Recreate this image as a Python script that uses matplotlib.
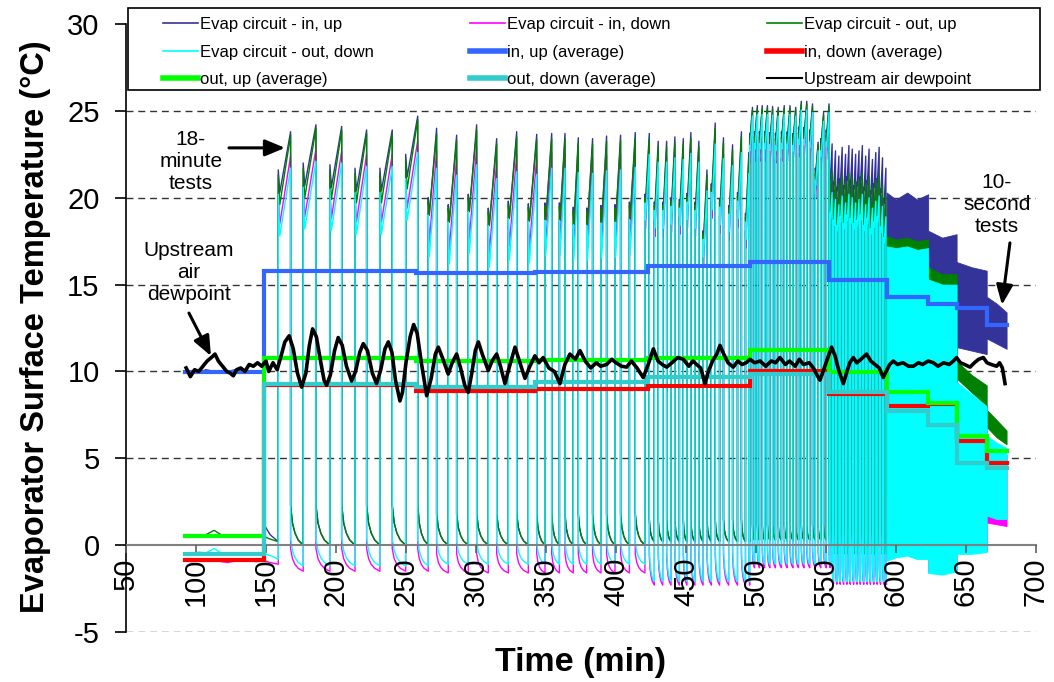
import numpy as np
import matplotlib
matplotlib.use("Agg")
import matplotlib.pyplot as plt
from matplotlib.lines import Line2D
from matplotlib.patches import Rectangle

plt.rcParams["font.family"] = ["Liberation Sans", "DejaVu Sans"]
plt.rcParams["axes.unicode_minus"] = False

# ---------------------------------------------------------------- data
# Steady pre-test period and the first cold spell before cycling (min, degC)
pre_t        = [92, 97, 102, 107, 113, 118, 123, 128, 133, 138, 143, 148.5, 148.5, 153, 158.8]
pre_in_up    = [10.0, 10.0, 9.9, 10.1, 10.0, 9.9, 10.0, 10.1, 10.0, 9.9, 10.0, 10.0, 1.2, 0.6, 0.2]
pre_in_down  = [-0.9, -0.95, -0.85, -0.9, -0.8, -0.95, -1.0, -0.9, -0.85, -0.9, -0.95, -0.9, -0.9, -1.0, -1.1]
pre_out_up   = [0.5, 0.45, 0.55, 0.6, 0.85, 0.6, 0.45, 0.5, 0.55, 0.5, 0.45, 0.5, 0.5, 0.35, 0.2]
pre_out_down = [-0.45, -0.5, -0.4, -0.45, -0.2, -0.45, -0.55, -0.5, -0.45, -0.5, -0.5, -0.5, -0.5, -0.6, -0.8]

# Warm (fan-off) phases of the cyclic tests: start, end (min) and in-up peak (degC)
warm_on = [158.8, 176.6, 195.7, 213.6, 231.4, 249.8,
           265.9, 280.2, 294.5, 308.8, 323.1, 337.4,
           349.3, 359.6, 369.5, 379.1, 389.3, 399.3, 409.6,
           420.7, 427.4, 433.4, 439.3, 445.3, 450.7, 456.4, 462.2, 468.1, 474.0, 480.5, 486.8, 492.5,
           495.5, 499.0, 502.5, 506.2, 509.9, 513.9, 518.2, 522.3, 526.4, 530.4, 534.3, 538.4, 542.4, 546.3, 550.2,
           553.0, 555.4, 557.8, 560.2, 562.6, 565.0, 567.4, 569.8, 572.2, 574.6, 577.0, 579.4, 581.8, 584.2,
           586.6, 589.0, 591.4]
warm_off = [167.6, 185.7, 204.1, 221.9, 240.2, 258.4,
            271.9, 286.2, 300.5, 314.8, 329.1, 343.4,
            354.1, 363.6, 373.1, 383.3, 393.3, 403.3, 413.8,
            423.8, 430.2, 436.2, 442.1, 448.1, 453.5, 459.2, 465.0, 470.9, 476.8, 483.3, 489.6, 494.9,
            497.5, 501.0, 504.5, 508.2, 511.9, 515.9, 520.2, 524.3, 528.4, 532.4, 536.3, 540.4, 544.4, 548.3, 552.2,
            554.4, 556.8, 559.2, 561.6, 564.0, 566.4, 568.8, 571.2, 573.6, 576.0, 578.4, 580.8, 583.2, 585.6,
            588.0, 590.4, 592.8]
peak_in_up = [23.8, 24.2, 24.1, 23.9, 23.9, 24.7,
              24.0, 23.6, 24.2, 23.4, 23.8, 23.65,
              23.7, 23.7, 23.45, 23.4, 23.55, 23.6, 23.75,
              23.7, 23.25, 23.25, 23.5, 23.4, 23.75, 23.25, 21.6, 24.3, 23.45, 23.05, 23.8, 22.6,
              25.2, 25.3, 25.3, 25.3, 25.25, 25.2, 25.3, 25.3, 25.2, 25.55, 25.55, 25.4, 23.2, 24.9, 25.4,
              23.1, 22.7, 22.4, 22.9, 22.5, 23.0, 22.8, 22.5, 22.7, 23.0, 22.4, 22.8, 22.2, 22.6,
              22.9, 22.3, 21.7]
cycling_end = 593.3

# Test blocks of the cyclic series (18, 14, 10, 6, 4 and 2.4 minute periods)
block_edges = [148.5, 259.0, 345.0, 419.0, 495.2, 552.6, 593.3]
# Drop below the in-up peak: peak, level just after fan-off, dip shortly after (degC)
peak_drop = {"in_up": [0, 0, 0, 0, 0, 0],
             "in_down": [1.4, 1.3, 1.1, 0.9, 0.5, 2.4],
             "out_up": [0.2, 0.3, 0.3, 0.3, 0.15, 1.6],
             "out_down": [2.1, 2.3, 2.0, 1.2, 0.5, 2.8]}
start_drop = {"in_up": [2.2, 4.0, 4.0, 3.5, 1.5, 1.8],
              "in_down": [3.6, 5.0, 5.0, 4.5, 3.0, 4.0],
              "out_up": [2.5, 4.2, 4.2, 3.7, 1.8, 3.0],
              "out_down": [3.6, 5.0, 5.0, 4.0, 2.2, 4.0]}
dip_drop = {"in_up": [3.5, 5.0, 5.0, 4.0, 1.8, 2.0],
            "in_down": [5.3, 6.6, 6.4, 5.5, 3.2, 4.2],
            "out_up": [4.2, 5.0, 5.0, 4.3, 2.0, 3.2],
            "out_down": [6.0, 7.4, 7.0, 5.0, 2.5, 4.3]}
# Surface temperature right after fan-on and at the end of the cold phase (degC)
cold_start = {"in_up": [2.3, 1.8, 1.8, 1.5, 1.2, 0.8],
              "in_down": [-0.2, -0.5, -0.5, -0.6, -0.3, -1.0],
              "out_up": [2.3, 1.8, 1.8, 1.5, 1.2, 0.8],
              "out_down": [0.4, 0.2, 0.2, -0.2, 0.0, -0.6]}
cold_end = {"in_up": [0.0, 0.0, 0.0, 0.2, 0.3, -0.5],
            "in_down": [-1.5, -1.6, -1.6, -2.3, -1.3, -2.25],
            "out_up": [0.0, 0.0, 0.0, 0.2, 0.3, -0.5],
            "out_down": [-1.2, -1.1, -1.1, -2.1, -1.1, -2.1]}

# 10-second tests: envelope of the fast oscillation (min, degC)
band_t      = [593.3, 600.0, 608.0, 615.0, 623.0, 623.0, 633.0, 643.3, 643.3, 654.0, 664.8, 664.8, 672.0, 679.0]
in_up_hi    = [20.3, 19.9, 20.3, 19.9, 20.2, 18.1, 17.7, 17.9, 16.3, 16.0, 15.8, 14.3, 13.9, 13.4]
in_up_lo    = [6.0, 6.0, 6.0, 6.0, 6.0, 6.0, 6.0, 6.0, 11.4, 11.2, 11.0, 11.9, 11.6, 11.3]
in_down_hi  = [16.0, 16.0, 16.0, 16.0, 16.0, 14.0, 14.0, 14.0, 8.5, 8.0, 7.5, 6.0, 5.5, 5.2]
in_down_lo  = [-0.85, -0.65, -0.55, -0.75, -0.75, -1.55, -1.65, -1.45, -0.45, -0.45, -0.35, 1.3, 1.2, 1.1]
out_up_hi   = [17.8, 17.6, 17.7, 17.5, 17.6, 16.0, 15.6, 15.6, 10.6, 9.8, 9.2, 7.8, 7.2, 6.6]
out_up_lo   = [3.0, 3.0, 3.0, 3.0, 3.0, 3.0, 3.0, 3.0, 9.6, 8.8, 8.0, 6.8, 6.2, 5.8]
out_down_hi = [17.2, 17.1, 17.2, 17.0, 17.1, 15.3, 15.0, 15.0, 9.4, 8.7, 8.0, 6.3, 5.9, 5.6]
out_down_lo = [-0.9, -0.7, -0.6, -0.8, -0.8, -1.6, -1.7, -1.5, -0.5, -0.5, -0.4, 1.7, 1.5, 1.5]

# Averages over each test (step levels, degC) between the step edges (min)
step_edges   = [92, 148.5, 257, 342, 423, 496, 552, 593.3, 623, 643.3, 665, 679]
avg_in_up    = [9.95, 15.8, 15.64, 15.73, 16.08, 16.3, 15.25, 14.3, 13.86, 13.68, 12.65]
avg_in_down  = [-0.84, 9.2, 8.9, 9.0, 9.18, 10.0, 8.7, 8.0, 8.12, 6.0, 4.74]
avg_out_up   = [0.5, 10.78, 10.6, 10.65, 10.8, 11.24, 9.95, 8.8, 8.2, 6.3, 5.4]
avg_out_down = [-0.52, 9.28, 9.12, 9.37, 9.66, 9.85, 8.8, 7.75, 6.9, 4.74, 4.45]

# Upstream air dewpoint (min, degC)
dew_t = [93, 96, 99, 102, 105, 108, 111, 113.6, 116, 119, 122, 124.5, 126.7, 129, 132, 135, 138, 141,
         144, 147, 150, 152, 155, 158, 160.5, 163.5, 166.6, 169.5, 172.5, 175.5, 178.5, 181, 183.3, 186,
         189, 191.5, 193.3, 196, 199, 201.6, 204.5, 207.5, 211.2, 214, 217, 219.5, 222.5, 226, 229, 232,
         235, 237.4, 240, 242.5, 245.7, 247.5, 250, 253, 255.5, 258, 261, 264.8, 268, 271, 273.1, 276,
         280.2, 283, 286.2, 289, 292, 294.5, 297, 299.5, 301.7, 304.5, 308.8, 311.5, 314.8, 317.5, 320.7,
         324, 327.9, 331, 335, 338.5, 342.1, 345, 348, 352, 356, 360, 363.5, 367.1, 371, 374.3, 378, 382,
         386, 389, 393.3, 397, 400, 404, 407.6, 411, 415, 419.5, 423, 426.7, 430, 433, 436.2, 440, 444,
         448.1, 452, 455, 457.6, 460.5, 463.6, 466, 469, 472, 474.3, 477, 480, 483.8, 487, 490, 493,
         495.7, 499, 503, 507, 511, 514, 517.1, 521, 524, 528, 531, 534, 538, 541, 543.5, 545.7, 548,
         550.5, 554, 556.5, 559, 562.4, 565, 567, 569.5, 572, 575, 579, 582, 585, 588, 590.9, 593, 595.5,
         598.1, 601, 605, 609, 612.4, 616, 619, 623, 626.7, 630, 634, 638, 641, 643.3, 646, 649, 652.9,
         656, 659, 662.4, 665, 668, 671.9, 674, 676, 677.9]
dew_v = [10.2, 9.7, 10.1, 10.0, 10.3, 10.6, 10.8, 11.0, 10.6, 10.3, 10.0, 9.9, 9.75, 10.1, 10.2, 10.0,
         10.4, 10.3, 10.5, 10.3, 10.6, 10.0, 10.5, 10.1, 10.8, 11.7, 12.05, 11.3, 9.9, 9.1, 9.9, 11.5,
         12.45, 12.0, 10.6, 9.5, 9.2, 9.8, 11.2, 11.95, 11.5, 10.3, 9.45, 10.0, 11.1, 11.6, 11.2, 9.9,
         9.3, 10.1, 11.3, 11.7, 11.1, 9.5, 8.3, 8.8, 10.5, 12.0, 12.7, 12.2, 10.5, 8.6, 9.6, 11.0, 11.4,
         10.8, 9.85, 10.5, 11.0, 10.2, 9.2, 8.8, 9.9, 11.2, 11.7, 11.0, 10.05, 10.6, 11.0, 10.3, 9.3,
         10.3, 11.4, 10.6, 9.6, 10.3, 10.9, 10.5, 10.8, 10.2, 10.0, 9.3, 10.4, 11.0, 10.7, 11.2, 10.6,
         10.2, 10.5, 10.3, 10.4, 10.7, 10.5, 10.3, 10.25, 10.6, 10.2, 9.65, 10.4, 11.3, 10.6, 10.4,
         10.25, 10.5, 10.8, 10.7, 10.3, 10.6, 10.4, 10.2, 9.3, 10.0, 10.6, 11.0, 11.5, 11.0, 10.5, 10.25,
         10.6, 10.4, 10.5, 10.7, 10.5, 10.6, 10.3, 10.6, 10.5, 10.8, 10.4, 10.6, 10.3, 10.7, 10.4, 10.5,
         10.2, 9.8, 9.5, 10.0, 10.6, 11.4, 10.9, 10.1, 9.3, 10.0, 10.5, 10.8, 10.5, 10.7, 11.0, 10.6,
         10.4, 10.2, 9.65, 10.0, 10.4, 10.6, 10.4, 10.5, 10.3, 10.3, 10.5, 10.4, 10.6, 10.5, 10.3, 10.5,
         10.4, 10.6, 10.8, 10.5, 10.4, 10.25, 10.5, 10.7, 10.8, 10.5, 10.4, 10.3, 10.5, 10.2, 9.3]

legend_labels = ["Evap circuit - in, up", "Evap circuit - in, down", "Evap circuit - out, up",
                 "Evap circuit - out, down", "in, up (average)", "in, down (average)",
                 "out, up (average)", "out, down (average)", "Upstream air dewpoint"]

# ---------------------------------------------------------------- styles
C_IN_UP, C_IN_DOWN, C_OUT_UP, C_OUT_DOWN = "#333399", "#FF00FF", "#008000", "#00FFFF"
C_AVG_IN_UP, C_AVG_IN_DOWN, C_AVG_OUT_UP, C_AVG_OUT_DOWN = "#3366FF", "#FF0000", "#00FF00", "#33CCCC"

# time fractions and relative decay used to draw each cold phase
COLD_T = [0.0, 0.15, 0.35, 0.6, 1.0]
COLD_V = [0.0, 0.45, 0.7, 0.87, 1.0]


def block_index(t):
    for k in range(len(block_edges) - 1):
        if t < block_edges[k + 1]:
            return k
    return len(block_edges) - 2


def cyclic_trace(name, pre_vals):
    t = list(pre_t)
    y = list(pre_vals)
    n = len(warm_on)
    for i in range(n):
        b = block_index(warm_on[i])
        on, off = warm_on[i], warm_off[i]
        w = off - on
        pk = peak_in_up[i]
        t += [on, on + 0.12 * w, off]
        y += [pk - start_drop[name][b], pk - dip_drop[name][b], pk - peak_drop[name][b]]
        nxt = warm_on[i + 1] if i + 1 < n else cycling_end
        c0, c1 = cold_start[name][b], cold_end[name][b]
        for ft, fv in zip(COLD_T, COLD_V):
            t.append(off + ft * (nxt - off))
            y.append(c0 + fv * (c1 - c0))
    return np.array(t), np.array(y)


fig = plt.figure(figsize=(10.54, 6.82), dpi=100)
ax = fig.add_axes([0.1195, 0.0733, 0.8634, 0.8915])
ax.set_xlim(50, 700)
ax.set_ylim(-5, 30)

for gy in [-5, 5, 10, 15, 20, 25]:
    ax.axhline(gy, color="#333333", lw=1.0, dashes=(5, 3.5), zorder=0.5)

raw = [("in_up", pre_in_up, C_IN_UP, in_up_lo, in_up_hi),
       ("in_down", pre_in_down, C_IN_DOWN, in_down_lo, in_down_hi),
       ("out_up", pre_out_up, C_OUT_UP, out_up_lo, out_up_hi),
       ("out_down", pre_out_down, C_OUT_DOWN, out_down_lo, out_down_hi)]
for z, (name, pre_vals, col, lo, hi) in enumerate(raw):
    tt, yy = cyclic_trace(name, pre_vals)
    ax.plot(tt, yy, color=col, lw=1.0, zorder=2 + 0.01 * z)
    ax.fill_between(band_t, lo, hi, color=col, lw=0.6, edgecolor=col, zorder=2 + 0.01 * z)

for z, (vals, col) in enumerate([(avg_in_up, C_AVG_IN_UP), (avg_in_down, C_AVG_IN_DOWN),
                                 (avg_out_up, C_AVG_OUT_UP), (avg_out_down, C_AVG_OUT_DOWN)]):
    ax.step(step_edges, list(vals) + [vals[-1]], where="post", color=col, lw=3.0,
            zorder=3 + 0.01 * z, solid_joinstyle="miter")

ax.plot(dew_t, dew_v, color="black", lw=2.6, zorder=4)

# axes styling
for s in ["top", "right"]:
    ax.spines[s].set_visible(False)
ax.spines["bottom"].set_position(("data", 0))
ax.spines["bottom"].set_color("#808080")
ax.spines["bottom"].set_linewidth(1.5)
ax.spines["left"].set_linewidth(1.2)
ax.set_axisbelow(False)
ax.set_xticks(np.arange(50, 701, 50))
ax.set_yticks(np.arange(-5, 31, 5))
ax.tick_params(axis="x", direction="out", length=6, width=1.2, color="#606060", pad=3,
               labelsize=21, labelrotation=90)
ax.tick_params(axis="y", direction="out", length=8, width=1.2, pad=11, labelsize=21)

fig.text(0.0335, 0.521, "Evaporator Surface Temperature (\u00b0C)", rotation=90, ha="center",
         va="center", fontsize=23.5, fontweight="bold")
fig.text(0.551, 0.029, "Time (min)", ha="center", va="center", fontsize=24.5, fontweight="bold")

# annotations
arrow = dict(arrowstyle="-|>,head_length=1.2,head_width=0.5", color="black", lw=2.2,
             shrinkA=0, shrinkB=0)
ax.annotate("", xy=(163.6, 22.87), xytext=(123.6, 22.87), arrowprops=arrow, zorder=6)
ax.text(96.4, 22.06, "18-\nminute\ntests", ha="center", va="center", fontsize=15, linespacing=1.2)
ax.annotate("", xy=(110.7, 10.89), xytext=(95.0, 13.36), arrowprops=arrow, zorder=6)
ax.text(95.0, 15.67, "Upstream\nair\ndewpoint", ha="center", va="center", fontsize=15, linespacing=1.2)
ax.annotate("", xy=(675.7, 13.83), xytext=(681.4, 17.4), arrowprops=arrow, zorder=6)
ax.text(672.1, 19.59, "10-\nsecond\ntests", ha="center", va="center", fontsize=15, linespacing=1.2)

# legend box and its entries, filled row by row
fig.add_artist(Rectangle((128 / 1054, 1 - 90 / 682), 912 / 1054, 82 / 682, transform=fig.transFigure,
                         facecolor="white", edgecolor="black", lw=1.2, zorder=5))
widths = [1.2, 1.2, 1.2, 1.2, 4, 4, 4, 4, 1.5]
colors = [C_IN_UP, C_IN_DOWN, C_OUT_UP, C_OUT_DOWN, C_AVG_IN_UP, C_AVG_IN_DOWN,
          C_AVG_OUT_UP, C_AVG_OUT_DOWN, "black"]
handles = [Line2D([], [], color=c, lw=w) for c, w in zip(colors, widths)]
order = [0, 3, 6, 1, 4, 7, 2, 5, 8]
leg = fig.legend([handles[i] for i in order], [legend_labels[i] for i in order], ncol=3,
                 loc="upper left", bbox_to_anchor=(163 / 1054, 1 - 17 / 682),
                 fontsize=12, handlelength=2.1, handletextpad=0.1, labelspacing=0.75,
                 columnspacing=5.8, borderpad=0.0, borderaxespad=0.0, frameon=False)
leg.set_zorder(6)

fig.savefig("out.png", dpi=100)
